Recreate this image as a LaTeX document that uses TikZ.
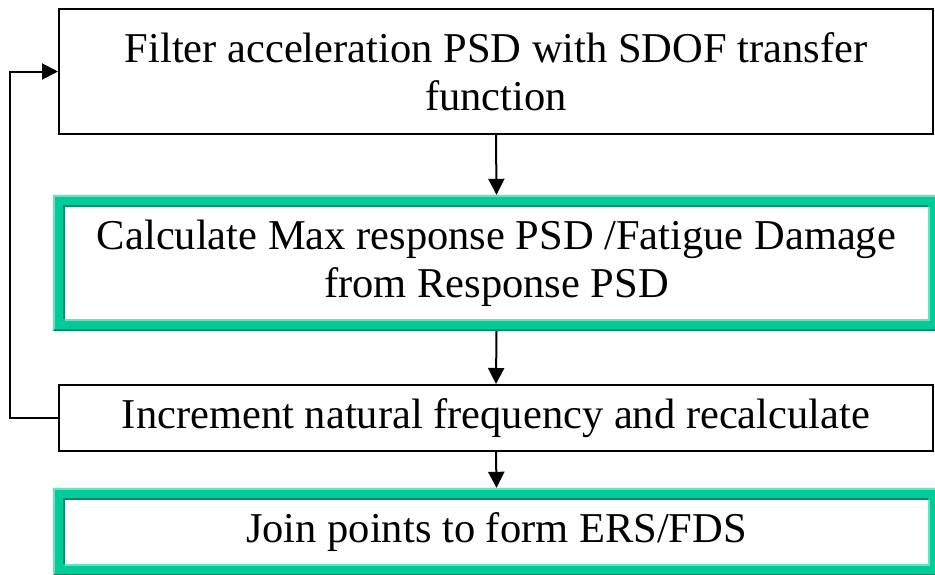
\documentclass[tikz,border=0pt]{standalone}
\usepackage{fontspec}
\setmainfont{Liberation Serif}
\usetikzlibrary{arrows.meta}
\definecolor{gmain}{RGB}{0,204,153}
\definecolor{glight}{RGB}{110,224,190}
\definecolor{gdark}{RGB}{0,140,105}
\newcommand\gframe[1]{%
  \fill[gmain,even odd rule] ([shift={(-12,12)}]#1.north west) rectangle ([shift={(12,-12)}]#1.south east)
       (#1.north west) rectangle (#1.south east);
  \draw[glight,line width=2pt] ([shift={(-11,-11)}]#1.south west) -- ([shift={(-11,11)}]#1.north west) -- ([shift={(11,11)}]#1.north east);
  \draw[gdark,line width=2pt] ([shift={(-11,-11)}]#1.south west) -- ([shift={(11,-11)}]#1.south east) -- ([shift={(11,11)}]#1.north east);
  \draw[gdark,line width=2pt] ([shift={(-1,0)}]#1.south west) -- ([shift={(-1,1)}]#1.north west) -- ([shift={(0,1)}]#1.north east);
  \draw[glight,line width=2pt] ([shift={(0,-1)}]#1.south west) -- ([shift={(1,-1)}]#1.south east) -- ([shift={(1,0)}]#1.north east);
}
\tikzset{
  boxtext/.style={align=center, inner sep=0pt, font=\fontsize{42.5}{48}\selectfont},
  blackbox/.style={boxtext, draw=black, line width=2pt, minimum width=874pt},
  greenbox/.style={boxtext, fill=white, minimum width=863pt},
  conn/.style={line width=2pt, -{Triangle[length=16pt,width=16pt]}},
}
\begin{document}
\begin{tikzpicture}[x=1pt,y=1pt]
\useasboundingbox (0,0) rectangle (935,-574);
\node[blackbox, minimum height=125pt] (filter) at (496,-71.5) {Filter acceleration PSD with SDOF transfer\\function};
\node[greenbox, minimum height=112pt] (calc) at (496.5,-263) {};
\gframe{calc}
\node[boxtext] (calctext) at (calc.center) {Calculate Max response PSD /Fatigue Damage\\from Response PSD};
\node[blackbox, minimum height=66pt] (incr) at (496,-418) {Increment natural frequency and recalculate};
\node[greenbox, minimum height=64pt] (join) at (496.5,-532) {};
\gframe{join}
\node[boxtext] (jointext) at (join.center) {Join points to form ERS/FDS};
\draw[conn] (filter.south) -- ([yshift=12]calc.north);
\draw[conn] ([yshift=-12]calc.south) -- (incr.north);
\draw[conn] (incr.south) -- ([yshift=12]join.north);
\draw[conn] (incr.west) -- ++(-48,0) |- (filter.west);
\end{tikzpicture}
\end{document}
